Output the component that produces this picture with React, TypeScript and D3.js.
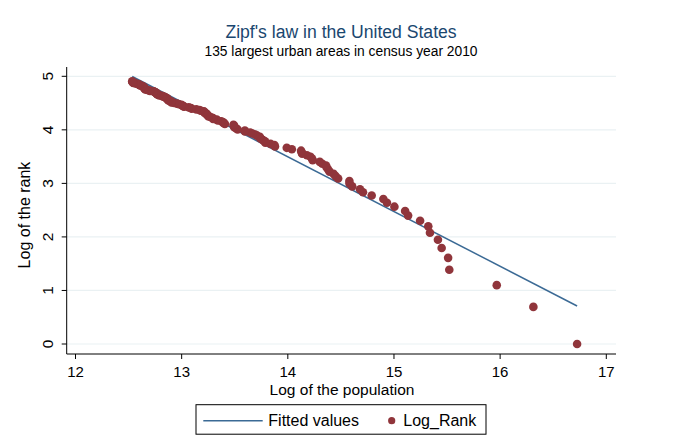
import React from "react";
import * as d3 from "d3";

// Log of the population (x) for the 135 largest urban areas, ordered by rank
const logPopulation: number[] = [
  16.725, 16.313, 15.968, 15.521, 15.510, 15.449, 15.414, 15.339, 15.323, 15.246,
  15.133, 15.105, 15.004, 14.934, 14.900, 14.790, 14.708, 14.680, 14.606, 14.581,
  14.580, 14.474, 14.450, 14.431, 14.393, 14.380, 14.366, 14.360, 14.325, 14.301,
  14.234, 14.228, 14.213, 14.180, 14.135, 14.129, 14.125, 14.038, 13.990, 13.879,
  13.874, 13.837, 13.788, 13.785, 13.768, 13.749, 13.737, 13.736, 13.710, 13.693,
  13.666, 13.645, 13.596, 13.595, 13.527, 13.516, 13.499, 13.494, 13.493, 13.488,
  13.407, 13.393, 13.392, 13.374, 13.340, 13.331, 13.296, 13.295, 13.277, 13.253,
  13.253, 13.241, 13.235, 13.233, 13.217, 13.215, 13.210, 13.181, 13.168, 13.138,
  13.095, 13.087, 13.067, 13.023, 13.017, 13.005, 12.998, 12.975, 12.957, 12.930,
  12.904, 12.903, 12.901, 12.879, 12.877, 12.868, 12.868, 12.866, 12.852, 12.851,
  12.838, 12.823, 12.814, 12.789, 12.783, 12.770, 12.765, 12.763, 12.759, 12.753,
  12.740, 12.737, 12.702, 12.695, 12.676, 12.657, 12.656, 12.656, 12.650, 12.645,
  12.645, 12.639, 12.632, 12.632, 12.611, 12.601, 12.601, 12.595, 12.579, 12.566,
  12.545, 12.543, 12.540, 12.536, 12.534,
];

// Log of the rank (y)
const logRank: number[] = [
  0.000, 0.693, 1.099, 1.386, 1.609, 1.792, 1.946, 2.079, 2.197, 2.303,
  2.398, 2.485, 2.565, 2.639, 2.708, 2.773, 2.833, 2.890, 2.944, 2.996,
  3.045, 3.091, 3.135, 3.178, 3.219, 3.258, 3.296, 3.332, 3.367, 3.401,
  3.434, 3.466, 3.497, 3.526, 3.555, 3.584, 3.611, 3.638, 3.664, 3.689,
  3.714, 3.738, 3.761, 3.784, 3.807, 3.829, 3.850, 3.871, 3.892, 3.912,
  3.932, 3.951, 3.970, 3.989, 4.007, 4.025, 4.043, 4.060, 4.078, 4.094,
  4.111, 4.127, 4.143, 4.159, 4.174, 4.190, 4.205, 4.220, 4.234, 4.248,
  4.263, 4.277, 4.290, 4.304, 4.317, 4.331, 4.344, 4.357, 4.369, 4.382,
  4.394, 4.407, 4.419, 4.431, 4.443, 4.454, 4.466, 4.477, 4.489, 4.500,
  4.511, 4.522, 4.533, 4.543, 4.554, 4.564, 4.575, 4.585, 4.595, 4.605,
  4.615, 4.625, 4.635, 4.644, 4.654, 4.663, 4.673, 4.682, 4.691, 4.700,
  4.710, 4.718, 4.727, 4.736, 4.745, 4.754, 4.762, 4.771, 4.779, 4.787,
  4.796, 4.804, 4.812, 4.820, 4.828, 4.836, 4.844, 4.852, 4.860, 4.868,
  4.875, 4.883, 4.890, 4.898, 4.905,
];

// Fitted values line (endpoints at min and max of log population)
const fittedX: number[] = [12.534, 16.725];
const fittedY: number[] = [4.996, 0.71];

const xTicks: number[] = [12, 13, 14, 15, 16, 17];
const yTicks: number[] = [0, 1, 2, 3, 4, 5];

const titleText = "Zipf's law in the United States";
const subtitleText = "135 largest urban areas in census year 2010";
const xTitle = "Log of the population";
const yTitle = "Log of the rank";
const legendLabels = ["Fitted values", "Log_Rank"];

const W = 682;
const H = 447;
const FONT = "'Liberation Sans', Arial, Helvetica, sans-serif";
const NAVY = "#1a476f";
const LINE = "#3b6a95";
const MAROON = "#90353b";
const GRID = "#eaf1f3";

export default function App() {
  const x = d3.scaleLinear().domain([12, 17]).range([75.5, 606.3]);
  const y = d3.scaleLinear().domain([0, 5]).range([344, 76.3]);

  const plotLeft = 66.7;
  const plotRight = 616;
  const plotTop = 67;
  const axisY = 354;

  const fitted = fittedX.map((v, i) => [v, fittedY[i]] as [number, number]);
  const lineGen = d3
    .line<[number, number]>()
    .x((d) => x(d[0]))
    .y((d) => y(d[1]));

  const points = logPopulation.map((v, i) => ({ x: v, y: logRank[i] }));

  return (
    <svg
      width={W}
      height={H}
      viewBox={`0 0 ${W} ${H}`}
      style={{ position: "absolute", left: 0, top: 0, background: "#fff" }}
      fontFamily={FONT}
    >
      <rect x={0} y={0} width={W} height={H} fill="#fff" />
      {/* Titles */}
      <text x={341} y={37.5} textAnchor="middle" fontSize={17.6} fill={NAVY}>
        {titleText}
      </text>
      <text x={341} y={55.7} textAnchor="middle" fontSize={13.8} fill="#000">
        {subtitleText}
      </text>

      {/* Gridlines */}
      {yTicks.map((t) => (
        <line
          key={`g${t}`}
          x1={plotLeft}
          x2={plotRight}
          y1={y(t)}
          y2={y(t)}
          stroke={GRID}
          strokeWidth={1.2}
        />
      ))}

      {/* Fitted line */}
      <path d={lineGen(fitted) || ""} fill="none" stroke={LINE} strokeWidth={1.5} />

      {/* Scatter */}
      {points.map((p, i) => (
        <circle key={i} cx={x(p.x)} cy={y(p.y)} r={4.3} fill={MAROON} />
      ))}

      {/* Axes */}
      <line x1={plotLeft} x2={plotLeft} y1={plotTop} y2={axisY} stroke="#000" strokeWidth={1} />
      <line x1={plotLeft} x2={plotRight} y1={axisY} y2={axisY} stroke="#000" strokeWidth={1} />

      {yTicks.map((t) => (
        <g key={`yt${t}`}>
          <line x1={plotLeft - 5} x2={plotLeft} y1={y(t)} y2={y(t)} stroke="#000" strokeWidth={1} />
          <text
            transform={`translate(52.5,${y(t)}) rotate(-90)`}
            textAnchor="middle"
            fontSize={15.5}
            fill="#000"
          >
            {t}
          </text>
        </g>
      ))}

      {xTicks.map((t) => (
        <g key={`xt${t}`}>
          <line x1={x(t)} x2={x(t)} y1={axisY} y2={axisY + 5} stroke="#000" strokeWidth={1} />
          <text x={x(t)} y={377} textAnchor="middle" fontSize={15} fill="#000">
            {t}
          </text>
        </g>
      ))}

      <text x={342} y={394.5} textAnchor="middle" fontSize={15.5} fill="#000">
        {xTitle}
      </text>
      <text
        transform={`translate(30,215) rotate(-90)`}
        textAnchor="middle"
        fontSize={16}
        fill="#000"
      >
        {yTitle}
      </text>

      {/* Legend */}
      <rect x={196} y={404.7} width={290} height={29.5} fill="#fff" stroke="#000" strokeWidth={1} />
      <line x1={203.3} x2={262.7} y1={420.7} y2={420.7} stroke={LINE} strokeWidth={1.5} />
      <text x={268.3} y={426.4} fontSize={16} fill="#000">
        {legendLabels[0]}
      </text>
      <circle cx={391.7} cy={420.7} r={3.6} fill={MAROON} />
      <text x={403.3} y={426.4} fontSize={16} fill="#000">
        {legendLabels[1]}
      </text>
    </svg>
  );
}
